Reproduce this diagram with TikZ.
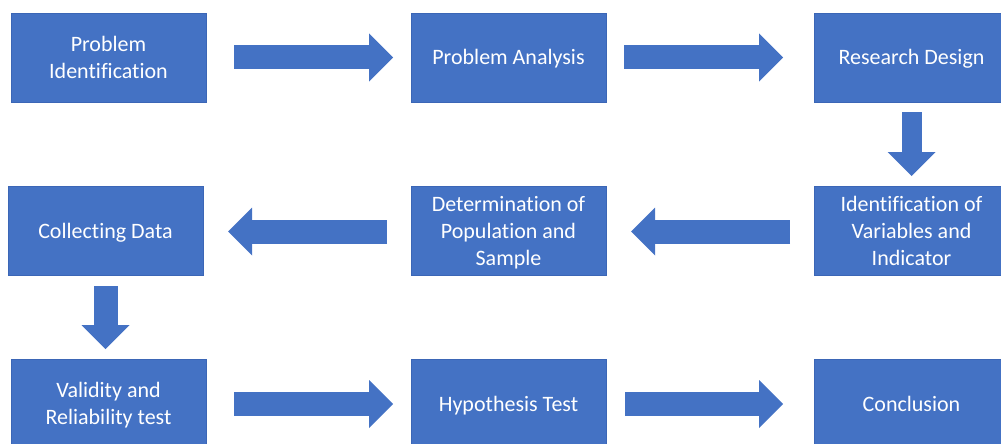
\documentclass[tikz,border=0pt]{standalone}
\usepackage{fontspec}
\setmainfont{Carlito}[Ligatures=NoCommon]
\usetikzlibrary{arrows.meta}
\definecolor{boxblue}{HTML}{4472C4}
\definecolor{edgeblue}{HTML}{3B66B6}
% full line box (21pt above, 6pt below the baseline) for each label line
\newcommand\linestrut{\rule[-6pt]{0pt}{27pt}}
\tikzset{
  stepbox/.style={rectangle, fill=boxblue, draw=edgeblue, line width=0.6pt,
    minimum width=195pt, minimum height=89pt, inner sep=0pt, outer sep=0pt,
    text=white, align=center, font=\fontsize{22}{27}\selectfont},
  blockarrow/.style={draw=boxblue, line width=#1, line cap=butt,
    -{Triangle[width=48pt,length=24pt,line width=0pt]}},
  blockarrow/.default=24pt
}
\begin{document}
\begin{tikzpicture}[x=1pt,y=-1pt]
  \useasboundingbox (0,0) rectangle (1001,444);
  \clip (0,0) rectangle (1001,444);
  % process steps, three rows
  \node[stepbox] (b1) at (108.5,57.5) {Problem\linestrut\\Identification\linestrut};
  \node[stepbox] (b2) at (508.5,57.5) {Problem Analysis\linestrut};
  \node[stepbox] (b3) at (911.5,57.5) {Research Design\linestrut};
  \node[stepbox] (b4) at (105.5,230.5) {Collecting Data\linestrut};
  \node[stepbox] (b5) at (508.5,230.5) {Determination of\linestrut\\Population and\linestrut\\Sample\linestrut};
  \node[stepbox] (b6) at (911.5,230.5) {Identification of\linestrut\\Variables and\linestrut\\Indicator\linestrut};
  \node[stepbox] (b7) at (108.5,403.5) {Validity and\linestrut\\Reliability test\linestrut};
  \node[stepbox] (b8) at (508.5,403.5) {Hypothesis Test\linestrut};
  \node[stepbox] (b9) at (911.5,403.5) {Conclusion\linestrut};
  % block arrows between steps
  \draw[blockarrow] ([xshift=28pt]b1.east) -- ([xshift=-18pt]b2.west);
  \draw[blockarrow] ([xshift=18pt]b2.east) -- ([xshift=-31pt]b3.west);
  \draw[blockarrow=20pt] ([yshift=-10pt]b3.south) -- ([yshift=10pt]b6.north);
  \draw[blockarrow] ([xshift=-24pt,yshift=-1pt]b6.west) -- ([xshift=25pt,yshift=-1pt]b5.east);
  \draw[blockarrow] ([xshift=-24pt,yshift=-1pt]b5.west) -- ([xshift=25pt,yshift=-1pt]b4.east);
  \draw[blockarrow] ([yshift=-11pt]b4.south) -- ([yshift=10pt]b4.south |- b7.north);
  \draw[blockarrow] ([xshift=28pt,yshift=-0.5pt]b7.east) -- ([xshift=-18pt,yshift=-0.5pt]b8.west);
  \draw[blockarrow] ([xshift=19pt,yshift=-0.5pt]b8.east) -- ([xshift=-31pt,yshift=-0.5pt]b9.west);
\end{tikzpicture}
\end{document}
